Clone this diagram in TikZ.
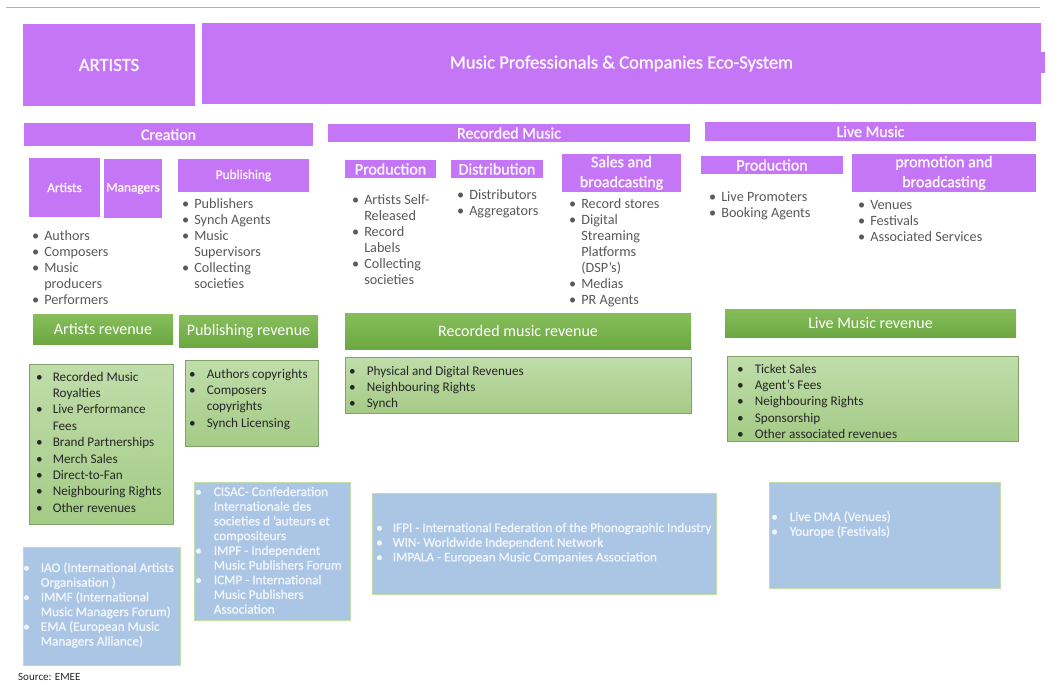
\documentclass[tikz,border=0pt]{standalone}
\usepackage{fontspec}
\setmainfont{Carlito}
\newfontfamily\medfont[FakeBold=1.3]{Carlito}
\usetikzlibrary{positioning}

\definecolor{ecopurple}{RGB}{197,118,246}
\definecolor{purpletext}{RGB}{252,246,255}
\definecolor{revtop}{RGB}{134,190,92}
\definecolor{revdark}{RGB}{108,168,66}
\definecolor{revlight}{RGB}{192,221,170}
\definecolor{revlightb}{RGB}{164,203,134}
\definecolor{orgblue}{RGB}{171,197,229}
\definecolor{orgtext}{RGB}{240,245,251}
\definecolor{listgray}{RGB}{89,89,89}
\definecolor{listdark}{RGB}{38,38,38}

% bullet list set as a two column tabular, baseline on the first row
\newcommand{\itemlist}[2]{\begin{tabular}[t]{@{}l@{\hspace{#1}}l@{}}#2\end{tabular}}
\newcommand{\bul}{\textbullet}

\tikzset{%
	topbox/.style  = {fill=ecopurple, text=purpletext, inner sep=0pt, font=\medfont\fontsize{18.6}{22}\selectfont},
	section/.style = {fill=ecopurple, text=purpletext, inner sep=0pt, font=\medfont\fontsize{16}{18}\selectfont},
	subhead/.style = {fill=ecopurple, text=purpletext, inner sep=0pt, font=\medfont\fontsize{13.3}{15}\selectfont},
	subbig/.style  = {fill=ecopurple, text=purpletext, inner sep=0pt, align=center, font=\medfont\fontsize{16}{20}\selectfont},
	revhead/.style = {top color=revtop, bottom color=revdark, text=white, inner sep=0pt, font=\fontsize{16}{18}\selectfont},
	revbox/.style  = {top color=revlight, bottom color=revlightb, draw=revlightb!80!black, line width=0.4pt, inner sep=0pt},
	orgbox/.style  = {fill=orgblue, draw=revlight, line width=0.6pt, inner sep=0pt},
	uplist/.style  = {anchor=base west, inner sep=0pt, text=listgray, font=\fontsize{14.2}{16}\selectfont},
	revlist/.style = {anchor=base west, inner sep=0pt, text=listdark, font=\fontsize{13.2}{16.4}\selectfont},
	orglist/.style = {anchor=base west, inner sep=0pt, text=orgtext, font=\medfont\fontsize{13.2}{14.7}\selectfont},
}

\begin{document}
\begin{tikzpicture}[x=1pt,y=-1pt]
	\useasboundingbox[fill=white] (0,0) rectangle (1049,681);
	\draw[black!30] (6,7) -- (1040,7);

	% top row
	\node[topbox, minimum width=172, minimum height=82] (artists) at (109,65) {ARTISTS};
	\node[topbox, minimum width=839, minimum height=81] (eco) at (621.5,63.5) {Music Professionals \& Companies Eco-System};
	\fill[ecopurple] (1040,52) rectangle (1045,73);

	% sections
	\node[section, minimum width=289, minimum height=23] (creation) at (168.5,134.5) {Creation};
	\node[section, minimum width=362, minimum height=18] (recmusic) at (509,133) {Recorded Music};
	\node[section, minimum width=331, minimum height=19] (livemusic) at (870.5,131.5) {Live Music};

	% creation
	\node[subhead, minimum width=71, minimum height=59] (artbox) at (64.5,187.5) {Artists};
	\node[subhead, minimum width=58, minimum height=59] (managers) at (133,188.5) {Managers};
	\node[subhead, minimum width=131, minimum height=33] (publishing) at (243.5,175.5) {Publishing};
	\node[uplist] (artlist) at (32,240) {\itemlist{5pt}{\bul & Authors\\ \bul & Composers\\ \bul & Music\\ & producers\\ \bul & Performers}};
	\node[uplist] (publist) at (182,208) {\itemlist{5pt}{\bul & Publishers\\ \bul & Synch Agents\\ \bul & Music\\ & Supervisors\\ \bul & Collecting\\ & societies}};

	% recorded music
	\node[subbig, minimum width=91, minimum height=18] (recprod) at (390.5,169) {Production};
	\node[subbig, minimum width=92, minimum height=18] (distrib) at (497,169) {Distribution};
	\node[subbig, minimum width=119, minimum height=38] (sales) at (621.5,173) {Sales and\\broadcasting};
	\node[uplist] (prodlist) at (352,204) {\itemlist{5pt}{\bul & Artists Self-\\ & Released\\ \bul & Record\\ & Labels\\ \bul & Collecting\\ & societies}};
	\node[uplist] (distlist) at (457,199) {\itemlist{5pt}{\bul & Distributors\\ \bul & Aggregators}};
	\node[uplist] (saleslist) at (569,208) {\itemlist{5pt}{\bul & Record stores\\ \bul & Digital\\ & Streaming\\ & Platforms\\ & (DSP’s)\\ \bul & Medias\\ \bul & PR Agents}};

	% live music
	\node[subbig, minimum width=142, minimum height=18] (liveprod) at (772,165) {Production};
	\node[subbig, minimum width=184, minimum height=38] (promo) at (944,173) {promotion and\\broadcasting};
	\node[uplist] (liveprodlist) at (709,201) {\itemlist{5pt}{\bul & Live Promoters\\ \bul & Booking Agents}};
	\node[uplist] (promolist) at (858,209) {\itemlist{5pt}{\bul & Venues\\ \bul & Festivals\\ \bul & Associated Services}};

	% revenues
	\node[revhead, minimum width=140, minimum height=30] (artrev) at (103,329) {Artists revenue};
	\node[revhead, minimum width=139, minimum height=32] (pubrev) at (248.5,331) {Publishing revenue};
	\node[revhead, minimum width=346, minimum height=36] (recrev) at (518,331) {Recorded music revenue};
	\node[revhead, minimum width=291, minimum height=28] (liverev) at (870.5,323) {Live Music revenue};

	\node[revbox, minimum width=144, minimum height=160] (artrevbox) at (101,444) {};
	\node[revbox, minimum width=133, minimum height=86] (pubrevbox) at (251.5,403) {};
	\node[revbox, minimum width=346, minimum height=56] (recrevbox) at (518,385) {};
	\node[revbox, minimum width=291, minimum height=85] (liverevbox) at (872.5,398.5) {};
	\node[revlist] (artrevlist) at (36,381) {\itemlist{10pt}{\bul & Recorded Music\\ & Royalties\\ \bul & Live Performance\\ & Fees\\ \bul & Brand Partnerships\\ \bul & Merch Sales\\ \bul & Direct-to-Fan\\ \bul & Neighbouring Rights\\ \bul & Other revenues}};
	\node[revlist] (pubrevlist) at (189,378) {\itemlist{11pt}{\bul & Authors copyrights\\ \bul & Composers\\ & copyrights\\ \bul & Synch Licensing}};
	\node[revlist] (recrevlist) at (349,375) {\itemlist{11pt}{\bul & Physical and Digital Revenues\\ \bul & Neighbouring Rights\\ \bul & Synch}};
	\node[revlist] (liverevlist) at (737,373) {\itemlist{11pt}{\bul & Ticket Sales\\ \bul & Agent’s Fees\\ \bul & Neighbouring Rights\\ \bul & Sponsorship\\ \bul & Other associated revenues}};

	% organisations
	\node[orgbox, minimum width=157, minimum height=118] (iao) at (101.5,606) {};
	\node[orgbox, minimum width=156, minimum height=138] (cisac) at (272,551) {};
	\node[orgbox, minimum width=344, minimum height=101] (ifpi) at (544,543.5) {};
	\node[orgbox, minimum width=231, minimum height=106] (livedma) at (884.5,535) {};
	\node[orglist] (iaolist) at (23,572) {\itemlist{11pt}{\bul & IAO (International Artists\\ & Organisation )\\ \bul & IMMF (International\\ & Music Managers Forum)\\ \bul & EMA (European Music\\ & Managers Alliance)}};
	\node[orglist] (cisaclist) at (195,496) {\itemlist{12pt}{\bul & CISAC- Confederation\\ & Internationale des\\ & societies d ’auteurs et\\ & compositeurs\\ \bul & IMPF - Independent\\ & Music Publishers Forum\\ \bul & ICMP - International\\ & Music Publishers\\ & Association}};
	\node[orglist] (ifpilist) at (376,532) {\itemlist{10pt}{\bul & IFPI - International Federation of the Phonographic Industry\\ \bul & WIN- Worldwide Independent Network\\ \bul & IMPALA - European Music Companies Association}};
	\node[orglist] (livedmalist) at (771,521) {\itemlist{12pt}{\bul & Live DMA (Venues)\\ \bul & Yourope (Festivals)}};

	\node[anchor=base west, inner sep=0pt, text=listdark, font=\fontsize{11}{13}\selectfont] (source) at (18,680) {Source: EMEE};
\end{tikzpicture}
\end{document}
